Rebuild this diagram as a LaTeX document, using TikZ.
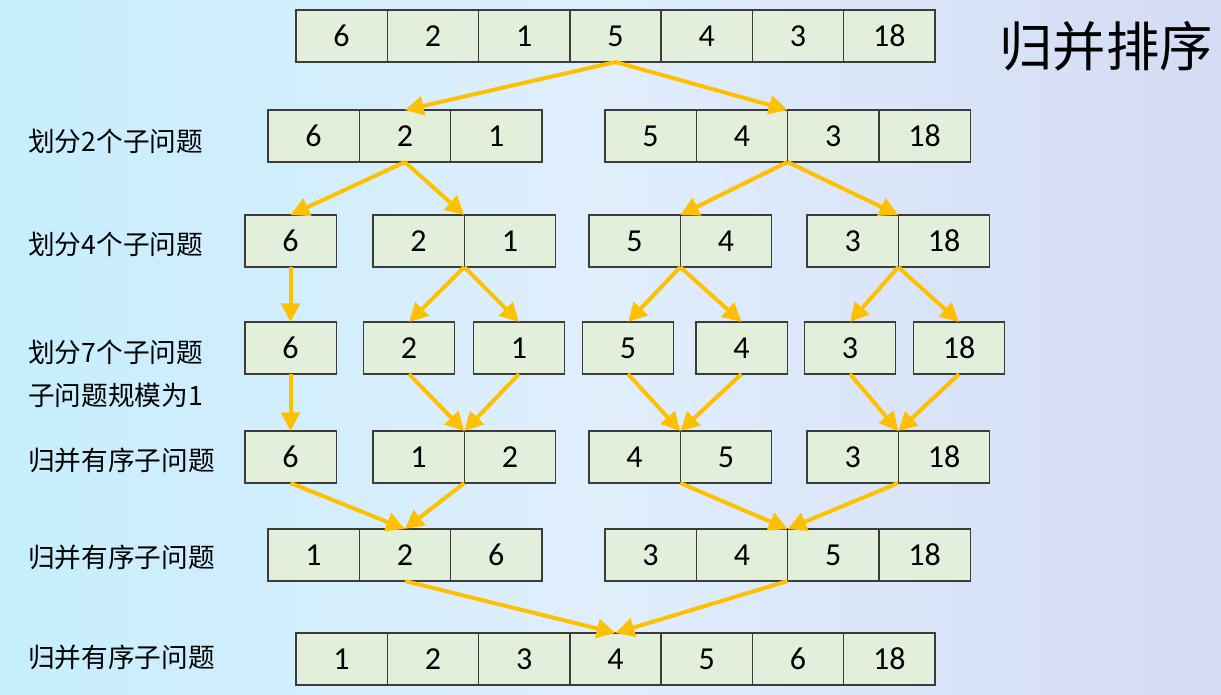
\documentclass[tikz,border=0pt]{standalone}
\usepackage{fontspec}
\setmainfont{Carlito}
\newfontfamily\cjk{Noto Sans CJK SC}
\usetikzlibrary{arrows.meta}
\definecolor{cellgreen}{RGB}{226,239,218}
\definecolor{cellline}{RGB}{60,60,60}
\definecolor{arrowgold}{RGB}{255,192,0}
\definecolor{bgcyan}{RGB}{198,238,253}
\definecolor{bglight}{RGB}{224,238,252}
\definecolor{bglav}{RGB}{212,219,244}

\begin{document}
\begin{tikzpicture}[x=0.75pt, y=-0.75pt,
  cell/.style={draw=cellline, line width=1pt, fill=cellgreen, minimum width=68.5pt, minimum height=39pt, inner sep=0pt, outer sep=0pt, font=\fontsize{24}{24}\selectfont},
  arr/.style={-{Triangle[length=14pt,width=14pt]}, draw=arrowgold, line width=3pt},
  lbl/.style={anchor=west, inner sep=0pt, font=\cjk\fontsize{20}{20}\selectfont}]
\useasboundingbox (0,0) rectangle (1221,694);
\shade[left color=bgcyan, right color=bglav, middle color=bglight] (0,0) rectangle (1221,694);

% Title
\node[font=\cjk\fontsize{40}{40}\selectfont] (title) at (1106,46) {归并排序};

% Row 1: input
\foreach \v [count=\i] in {6,2,1,5,4,3,18}
  \node[cell] (a\i) at ({341.6+(\i-1)*91.3},36) {\v};

% Row 2: two subproblems
\foreach \v [count=\i] in {6,2,1}
  \node[cell] (b\i) at ({313.6+(\i-1)*91.3},136) {\v};
\foreach \v [count=\i from 4] in {5,4,3,18}
  \node[cell] (b\i) at ({650.6+(\i-4)*91.3},136) {\v};

% Row 3: four subproblems
\foreach \x/\v [count=\i] in {290.5/6, 418.6/2, 510/1, 634.6/5, 726/4, 852.6/3, 944/18}
  \node[cell] (c\i) at (\x,241) {\v};

% Row 4: size one
\foreach \x/\v [count=\i] in {290.5/6, 409/2, 519/1, 628/5, 741.5/4, 850/3, 959/18}
  \node[cell] (d\i) at (\x,348) {\v};

% Row 5: merged pairs
\foreach \x/\v [count=\i] in {290.5/6, 418.6/1, 510/2, 634.6/4, 726/5, 852.6/3, 944/18}
  \node[cell] (e\i) at (\x,457) {\v};

% Row 6: merged halves
\foreach \v [count=\i] in {1,2,6}
  \node[cell] (f\i) at ({313.6+(\i-1)*91.3},555) {\v};
\foreach \v [count=\i from 4] in {3,4,5,18}
  \node[cell] (f\i) at ({650.6+(\i-4)*91.3},555) {\v};

% Row 7: result
\foreach \v [count=\i] in {1,2,3,4,5,6,18}
  \node[cell] (g\i) at ({341.6+(\i-1)*91.3},659) {\v};

% Split arrows
\draw[arr] (a4.south) -- (b2.north);
\draw[arr] (a4.south) -- (b5.north east);
\draw[arr] (b2.south) -- (c1.north);
\draw[arr] (b2.south) -- (c2.north east);
\draw[arr] (b5.south east) -- (c4.north east);
\draw[arr] (b5.south east) -- (c6.north east);
\draw[arr] (c1.south) -- (d1.north);
\draw[arr] (c2.south east) -- (d2.north);
\draw[arr] (c2.south east) -- (d3.north);
\draw[arr] (c4.south east) -- (d4.north);
\draw[arr] (c4.south east) -- (d5.north);
\draw[arr] (c6.south east) -- (d6.north);
\draw[arr] (c6.south east) -- (d7.north);

% Merge arrows
\draw[arr] (d1.south) -- (e1.north);
\draw[arr] (d2.south) -- (e2.north east);
\draw[arr] (d3.south) -- (e2.north east);
\draw[arr] (d4.south) -- (e4.north east);
\draw[arr] (d5.south) -- (e4.north east);
\draw[arr] (d6.south) -- (e6.north east);
\draw[arr] (d7.south) -- (e6.north east);
\draw[arr] (e1.south) -- (f2.north);
\draw[arr] (e2.south east) -- (f2.north);
\draw[arr] (e4.south east) -- (f5.north east);
\draw[arr] (e6.south east) -- (f5.north east);
\draw[arr] (f2.south) -- (g4.north);
\draw[arr] (f5.south east) -- (g4.north);

% Row labels
\node[lbl] (l2) at (28,141) {划分2个子问题};
\node[lbl] (l4) at (28,244) {划分4个子问题};
\node[lbl] (l7) at (28,352) {划分7个子问题};
\node[lbl] (l1) at (28,395) {子问题规模为1};
\node[lbl] (m1) at (28,460) {归并有序子问题};
\node[lbl] (m2) at (28,557) {归并有序子问题};
\node[lbl] (m3) at (28,657) {归并有序子问题};
\end{tikzpicture}
\end{document}
